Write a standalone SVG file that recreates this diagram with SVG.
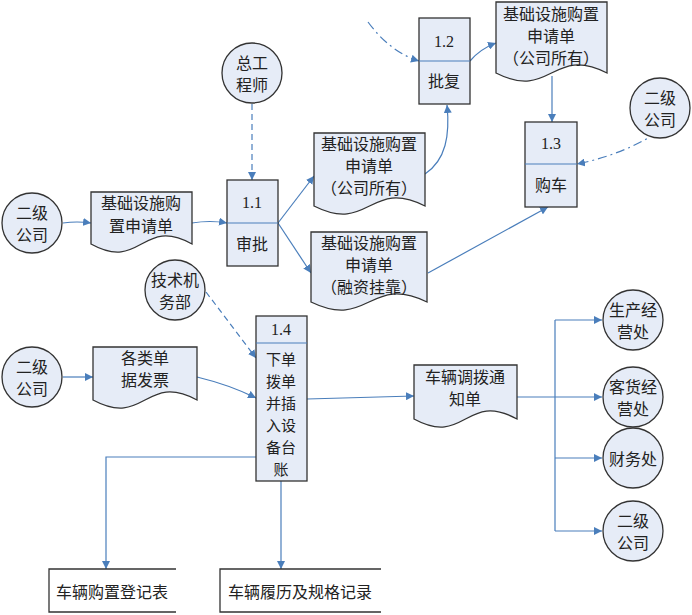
<svg xmlns="http://www.w3.org/2000/svg" width="692" height="615" viewBox="0 0 692 615">
<defs>
<marker id="ah" viewBox="0 0 10 10" refX="10" refY="5" markerWidth="8" markerHeight="8" markerUnits="userSpaceOnUse" orient="auto">
<path d="M0,0 L10,5 L0,10 Z" fill="#4a7ebb"/>
</marker>
<style>
.sh{fill:#e6ecf7;stroke:#333;stroke-width:1.3}
.ds{fill:none;stroke:#333;stroke-width:1.3}
.dv{stroke:#4a7ebb;stroke-width:1.2;fill:none}
.c{fill:none;stroke:#4a7ebb;stroke-width:1.2}
.a{marker-end:url(#ah)}
.dash{stroke-dasharray:6,4}
.dd{stroke-dasharray:9,4,2,4}
text{font-family:"Noto Sans CJK SC","Noto Sans",sans-serif;font-size:16px;fill:#222;text-anchor:middle;dominant-baseline:central}
.n{font-family:"Liberation Serif",serif}
.s{font-size:15px}
</style>
</defs>
<rect width="692" height="615" fill="#fff"/>

<g id="connectors">
<path class="c a" d="M63,223 Q77,221 91,223"/>
<path class="c a" d="M192,223 Q210,220 227,223"/>
<path class="c a dash" d="M252,104 V180"/>
<path class="c a" d="M278,223 L314,176"/>
<path class="c a" d="M278,223 L311,273"/>
<path class="c a" d="M425,174 C446,160 450,135 447,105"/>
<path class="c a dd" d="M368,22 Q390,52 419,61"/>
<path class="c a" d="M470,61 Q480,49 496,43"/>
<path class="c a" d="M552,76 V122"/>
<path class="c a dd" d="M658,132 Q622,155 577,164"/>
<path class="c a" d="M428,273 L548,207"/>
<path class="c a dash" d="M206,292 L256,358"/>
<path class="c a" d="M63,377 H93"/>
<path class="c a" d="M197,377 Q230,385 256,398"/>
<path class="c a" d="M307,399 L414,396"/>
<path class="c a" d="M256,457 H106 V569"/>
<path class="c a" d="M281,481 V569"/>
<path class="c" d="M517,397 H555 M555,320 V531"/>
<path class="c a" d="M555,320 H602"/>
<path class="c a" d="M555,397 H602"/>
<path class="c a" d="M555,458 H602"/>
<path class="c a" d="M555,531 H602"/>
</g>

<g id="ext-zonggongchengshi"><circle class="sh" cx="252" cy="73" r="30"/><text x="252" y="62">总工</text><text x="252" y="84">程师</text></g>
<g id="ext-erji-1"><circle class="sh" cx="32" cy="223" r="30"/><text x="32" y="212">二级</text><text x="32" y="234">公司</text></g>
<g id="ext-jishu"><circle class="sh" cx="175" cy="290" r="30"/><text x="175" y="279">技术机</text><text x="175" y="301">务部</text></g>
<g id="ext-erji-2"><circle class="sh" cx="32" cy="377" r="30"/><text x="32" y="366">二级</text><text x="32" y="388">公司</text></g>
<g id="ext-erji-3"><circle class="sh" cx="660" cy="108" r="30"/><text x="660" y="97">二级</text><text x="660" y="119">公司</text></g>
<g id="ext-shengchan"><circle class="sh" cx="633" cy="320" r="30"/><text x="633" y="309">生产经</text><text x="633" y="331">营处</text></g>
<g id="ext-kehuo"><circle class="sh" cx="633" cy="397" r="30"/><text x="633" y="386">客货经</text><text x="633" y="408">营处</text></g>
<g id="ext-caiwu"><circle class="sh" cx="633" cy="458" r="30"/><text x="633" y="458">财务处</text></g>
<g id="ext-erji-4"><circle class="sh" cx="633" cy="531" r="30"/><text x="633" y="520">二级</text><text x="633" y="542">公司</text></g>

<g id="doc-apply"><path class="sh" d="M91,192 H192 V244 C141.5,216 141.5,272 91,244 Z"/><text x="141" y="202">基础设施购</text><text x="141" y="225">置申请单</text></g>
<g id="doc-company"><path class="sh" d="M314,133 H425 V206 C369.5,178 369.5,234 314,206 Z"/><text x="369" y="143">基础设施购置</text><text x="369" y="165">申请单</text><text x="369" y="187">（公司所有）</text></g>
<g id="doc-finance"><path class="sh" d="M311,232 H427 V302 C369,274 369,330 311,302 Z"/><text x="369" y="242">基础设施购置</text><text x="369" y="264">申请单</text><text x="369" y="286">（融资挂靠）</text></g>
<g id="doc-approved"><path class="sh" d="M496,2 H607 V73 C551.5,45 551.5,101 496,73 Z"/><text x="551" y="13">基础设施购置</text><text x="551" y="35">申请单</text><text x="551" y="57">（公司所有）</text></g>
<g id="doc-invoice"><path class="sh" d="M93,347 H197 V400 C145,372 145,428 93,400 Z"/><text x="145" y="357">各类单</text><text x="145" y="379">据发票</text></g>
<g id="doc-notice"><path class="sh" d="M414,365 H517 V419 C465.5,391 465.5,447 414,419 Z"/><text x="465" y="376">车辆调拨通</text><text x="465" y="398">知单</text></g>

<g id="p11"><rect class="sh" x="227" y="180" width="51" height="86"/><line class="dv" x1="227" y1="223" x2="278" y2="223"/><text class="n" x="252" y="202">1.1</text><text x="252" y="243">审批</text></g>
<g id="p12"><rect class="sh" x="419" y="18" width="51" height="86"/><line class="dv" x1="419" y1="61" x2="470" y2="61"/><text class="n" x="444" y="41">1.2</text><text x="444" y="80">批复</text></g>
<g id="p13"><rect class="sh" x="525" y="122" width="52" height="85"/><line class="dv" x1="525" y1="164" x2="577" y2="164"/><text class="n" x="551" y="143">1.3</text><text x="551" y="184">购车</text></g>
<g id="p14"><rect class="sh" x="256" y="316" width="51" height="165"/><line class="dv" x1="256" y1="343" x2="307" y2="343"/><text class="n" x="281" y="329">1.4</text><text class="s" x="281" y="358">下单</text><text class="s" x="281" y="380">拨单</text><text class="s" x="281" y="402">并插</text><text class="s" x="281" y="424">入设</text><text class="s" x="281" y="446">备台</text><text class="s" x="281" y="468">账</text></g>

<g id="store-purchase"><path class="ds" d="M176,569 H49 V612 H176"/><text x="112" y="591">车辆购置登记表</text></g>
<g id="store-history"><path class="ds" d="M381,569 H220 V612 H381"/><text x="300" y="591">车辆履历及规格记录</text></g>
</svg>
